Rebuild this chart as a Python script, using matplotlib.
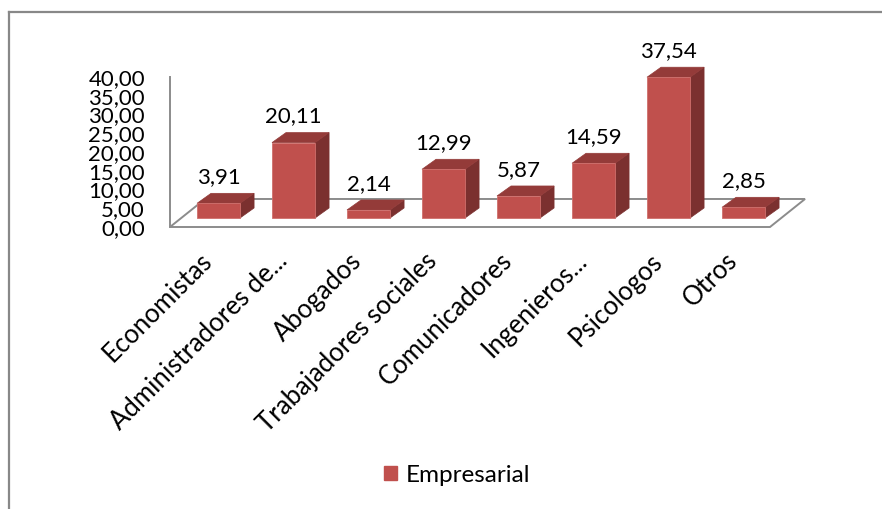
import matplotlib
matplotlib.use("Agg")
import matplotlib.pyplot as plt
from matplotlib.patches import Polygon, Rectangle, Patch
from matplotlib.lines import Line2D
from matplotlib.ticker import FixedLocator, FuncFormatter

# ---- data -------------------------------------------------------------
categories = ["Economistas", "Administradores de...", "Abogados",
              "Trabajadores sociales", "Comunicadores", "Ingenieros...",
              "Psicologos", "Otros"]
values = [3.91, 20.11, 2.14, 12.99, 5.87, 14.59, 37.54, 2.85]
series_name = "Empresarial"
y_ticks = [0, 5, 10, 15, 20, 25, 30, 35, 40]

# ---- style ------------------------------------------------------------
FRONT = "#C0504D"
TOP = "#943B39"
SIDE = "#7B302F"
GRID_GRAY = "#8C8C8C"
FONT = ["Lato", "DejaVu Sans"]
FS = 16

W, H = 882, 509
fig = plt.figure(figsize=(W / 100, H / 100), dpi=100)
plt.rcParams["font.family"] = FONT

# plot area: front floor edge spans x 170..770 px, value axis 227..77 px
ax = fig.add_axes([170 / W, (H - 227) / H, 600 / W, 150 / H])
ax.set_xlim(-0.647, 7.353)
ax.set_ylim(0, 40)
ax.patch.set_alpha(0)

# oblique 3D geometry (in data units)
BAR_HALF = 0.287      # half width of the front face
BASE = 2.4            # bars stand in the middle of the floor depth
BAR_DX, BAR_DY = 0.187, 2.67
FLOOR_DX, FLOOR_DY = 0.467, 7.47
x0, x1 = ax.get_xlim()

# floor outline
floor = Polygon([(x0, 0), (x1, 0), (x1 + FLOOR_DX, FLOOR_DY),
                 (x0 + FLOOR_DX, FLOOR_DY)], closed=True, fill=False,
                edgecolor=GRID_GRAY, lw=1.4, clip_on=False, zorder=1)
ax.add_patch(floor)

for i, v in enumerate(values):
    l, r = i - BAR_HALF, i + BAR_HALF
    b, t = BASE, BASE + v
    side = Polygon([(r, b), (r + BAR_DX, b + BAR_DY), (r + BAR_DX, t + BAR_DY),
                    (r, t)], closed=True, facecolor=SIDE, edgecolor=SIDE,
                   lw=0.5, clip_on=False, zorder=3)
    top = Polygon([(l, t), (r, t), (r + BAR_DX, t + BAR_DY),
                   (l + BAR_DX, t + BAR_DY)], closed=True, facecolor=TOP,
                  edgecolor=TOP, lw=0.5, clip_on=False, zorder=3)
    front = Rectangle((l, b), r - l, t - b, facecolor=FRONT,
                      edgecolor="#CF6F6C", lw=0.6, clip_on=False, zorder=4)
    for p in (side, top, front):
        ax.add_patch(p)
    ax.annotate(f"{v:.2f}".replace(".", ","), xy=(i, t), xytext=(0, 14.4),
                textcoords="offset points", ha="center", va="baseline",
                fontsize=FS, family=FONT, color="black",
                annotation_clip=False, zorder=5)

# value axis
for s in ("top", "right", "bottom"):
    ax.spines[s].set_visible(False)
ax.spines["left"].set_color(GRID_GRAY)
ax.spines["left"].set_linewidth(1.4)
ax.yaxis.set_major_locator(FixedLocator(y_ticks))
ax.yaxis.set_major_formatter(FuncFormatter(lambda y, _: f"{y:.2f}".replace(".", ",")))
ax.tick_params(axis="y", length=0, pad=18, labelsize=FS)
for lab in ax.get_yticklabels():
    lab.set_family(FONT)
ax.set_xticks([])

# category labels (slanted, right end anchored just below each column)
LABEL_DX, LABEL_Y = -0.14, -8.0
for i, name in enumerate(categories):
    ax.text(i + LABEL_DX, LABEL_Y, name, rotation=45,
            rotation_mode="anchor", ha="right", va="center", fontsize=18.5,
            family=FONT, color="black", clip_on=False)

# legend
fig.legend(handles=[Patch(facecolor=FRONT, edgecolor=FRONT)],
           labels=[series_name], loc="center",
           bbox_to_anchor=(457 / W, 1 - 475 / H), frameon=False,
           handlelength=0.55, handleheight=0.55, handletextpad=0.35,
           prop={"family": FONT, "size": 17.5})

# chart frame (left and top edges)
fig.add_artist(Line2D([9 / W, 9 / W], [0, 1 - 12 / H], color="#888888",
                      lw=1.6, transform=fig.transFigure))
fig.add_artist(Line2D([9 / W, 1], [1 - 12 / H, 1 - 12 / H], color="#888888",
                      lw=1.6, transform=fig.transFigure))

fig.savefig("out.png", dpi=100)
